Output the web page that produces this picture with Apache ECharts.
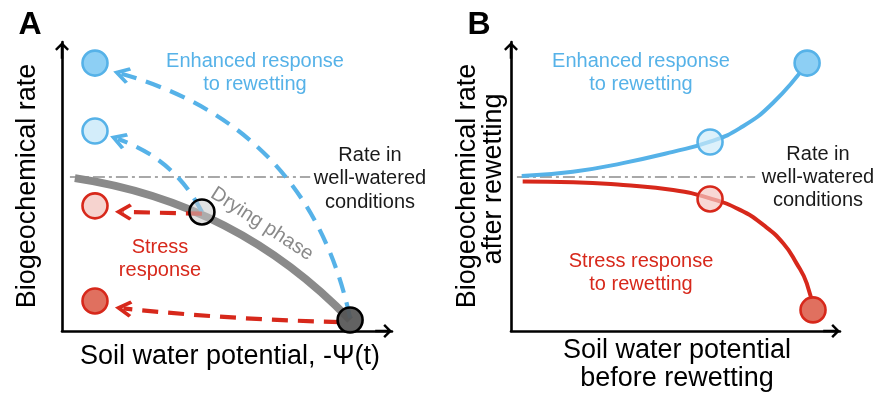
<!DOCTYPE html>
<html><head><meta charset="utf-8">
<script src="https://cdn.jsdelivr.net/npm/echarts@6/dist/echarts.min.js"></script>
<style>html,body{margin:0;padding:0;background:#fff}#c{width:876px;height:398px}</style>
</head><body><div id="c"></div>
<script>
// ---------- Panel A data (conceptual units 0-100) ----------
const dryingCurveA = [[3.9, 52.9], [87.3, 3.8]];
const wellWateredA = [[2.4, 53.3], [75.2, 53.3]];
const enhancedPathsA = [[[87.3, 4.5], [18.0, 89.0]], [[42.4, 41.2], [17.0, 66.4]]];
const stressPathsA = [[[42.4, 40.6], [18.6, 41.2]], [[84.2, 3.1], [18.6, 7.8]]];
const enhancedPointsA = [[10, 92.7], [10, 69.2]];
const stressPointsA = [[10, 43.3], [10, 10.4]];
const dryingPointsA = [[42.4, 41.2], [87.3, 3.8]];
// ---------- Panel B data ----------
const enhancedCurveB = [[3.25, 53.6], [18.8, 55.1], [34.0, 58.1], [49.2, 62.0], [60.5, 65.5], [69.6, 70.2], [79.6, 78.9], [90.0, 92.7]];
const stressCurveB = [[3.55, 51.7], [18.9, 51.5], [34.1, 50.5], [49.3, 48.8], [60.5, 45.9], [69.6, 41.9], [76.7, 36.7], [82.8, 30.3], [86.8, 23.4], [89.9, 16.5], [91.9, 7.3]];
const wellWateredB = [[1.8, 53.3], [74.2, 53.3]];
const enhancedPointsB = [[90.0, 92.7], [60.5, 65.4]];
const stressPointsB = [[60.5, 45.7], [91.8, 7.3]];

const BLUE = '#56B2E8', RED = '#D7281B', GRAY = '#8a8a8a';
const FONT = '"Liberation Sans", Arial, Helvetica, sans-serif';
const axisArrow = 'path://M10,0 L20,10 L17.53,12.47 L11.8,6.75 L11.8,24 L8.2,24 L8.2,6.75 L2.47,12.47 L0,10 Z';
const chevron = 'path://M10,0 L20,15 L16.8,17.5 L10,7.5 L3.2,17.5 L0,15 Z';

function axisPair(idx) {
  const line = {show: true, symbol: ['none', axisArrow], symbolSize: [14, 16.8], symbolOffset: [0, -8.4],
    lineStyle: {color: '#000', width: 2.6}};
  return {
    x: {type: 'value', gridIndex: idx, min: 0, max: 100, axisLine: line, axisTick: {show: false},
        axisLabel: {show: false}, splitLine: {show: false}},
    y: {type: 'value', gridIndex: idx, min: 0, max: 100, axisLine: line, axisTick: {show: false},
        axisLabel: {show: false}, splitLine: {show: false}}
  };
}
const axA = axisPair(0), axB = axisPair(1);

function dashDot(data, idx) {
  return {type: 'lines', coordinateSystem: 'cartesian2d', xAxisIndex: idx, yAxisIndex: idx, z: 1,
    data: [{coords: data}], lineStyle: {color: '#8c8c8c', width: 1.5, type: [12, 4, 3, 4], opacity: 1}};
}
function arrowLines(paths, color, curv, idx) {
  return {type: 'lines', coordinateSystem: 'cartesian2d', xAxisIndex: idx, yAxisIndex: idx, z: 3,
    symbol: ['none', chevron], symbolSize: 17,
    data: paths.map((p, i) => ({coords: p, lineStyle: {curveness: curv[i]}})),
    lineStyle: {color: color, width: 4.2, type: [16, 10], opacity: 1}};
}
function dots(points, fills, borders, idx, z) {
  return {type: 'scatter', xAxisIndex: idx, yAxisIndex: idx, symbolSize: 25, z: z || 5,
    data: points.map((p, i) => ({value: p, itemStyle: {color: fills[i], borderColor: borders[i], borderWidth: 2.6, opacity: 1}}))};
}
function txt(x, y, text, color, size, extra) {
  return Object.assign({type: 'text', x: x, y: y, z: 100,
    style: {text: text, fill: color, font: (extra && extra.bold ? 'bold ' : '') + size + 'px ' + FONT,
      align: 'center', verticalAlign: 'middle', textAlign: 'center', textVerticalAlign: 'middle'}},
    extra && extra.rotation !== undefined ? {rotation: extra.rotation} : {});
}

const option = {
  animation: false,
  backgroundColor: '#fff',
  grid: [
    {left: 62, top: 42, width: 330, height: 289},
    {left: 511, top: 42, width: 329, height: 289}
  ],
  xAxis: [axA.x, axB.x],
  yAxis: [axA.y, axB.y],
  series: [
    // Panel A
    dashDot(wellWateredA, 0),
    {type: 'lines', coordinateSystem: 'cartesian2d', xAxisIndex: 0, yAxisIndex: 0, z: 2,
      data: [{coords: dryingCurveA}], lineStyle: {color: GRAY, width: 8, curveness: 0.17, opacity: 1, cap: 'butt'}},
    arrowLines(enhancedPathsA, BLUE, [-0.3, -0.2], 0),
    arrowLines(stressPathsA, RED, [0, 0.02], 0),
    dots(enhancedPointsA, ['#8DCFF4', '#D3EDFA'], [BLUE, BLUE], 0),
    dots(stressPointsA, ['#F6D3CF', '#E0705F'], [RED, RED], 0),
    dots(dryingPointsA, ['rgba(200,200,200,0.55)', 'rgba(85,85,85,0.92)'], ['#000', '#000'], 0, 6),
    // Panel B
    dashDot(wellWateredB, 1),
    {type: 'line', xAxisIndex: 1, yAxisIndex: 1, data: enhancedCurveB, smooth: 0.5,
      showSymbol: false, symbol: 'none', z: 3, lineStyle: {color: BLUE, width: 4}},
    {type: 'line', xAxisIndex: 1, yAxisIndex: 1, data: stressCurveB, smooth: 0.5,
      showSymbol: false, symbol: 'none', z: 3, lineStyle: {color: RED, width: 4}},
    dots(enhancedPointsB, ['#8DCFF4', 'rgba(205,235,250,0.7)'], [BLUE, BLUE], 1),
    dots(stressPointsB, ['rgba(245,200,195,0.7)', '#E0705F'], [RED, RED], 1)
  ],
  graphic: [
    txt(30, 25, 'A', '#000', 32, {bold: true}),
    txt(479, 25, 'B', '#000', 32, {bold: true}),
    txt(27.5, 186, 'Biogeochemical rate', '#000', 27, {rotation: Math.PI / 2}),
    txt(230, 357, 'Soil water potential, -\u03A8(t)', '#000', 27),
    txt(255, 61, 'Enhanced response', BLUE, 20),
    txt(255, 84, 'to rewetting', BLUE, 20),
    txt(370, 155, 'Rate in', '#1a1a1a', 20),
    txt(370, 178, 'well-watered', '#1a1a1a', 20),
    txt(370, 202, 'conditions', '#1a1a1a', 20),
    txt(160, 247, 'Stress', RED, 20),
    txt(160, 270, 'response', RED, 20),
    txt(262, 224, 'Drying phase', GRAY, 20, {rotation: -33 * Math.PI / 180}),
    txt(467.5, 186, 'Biogeochemical rate', '#000', 27, {rotation: Math.PI / 2}),
    txt(493.5, 179, 'after rewetting', '#000', 27, {rotation: Math.PI / 2}),
    txt(677, 351, 'Soil water potential', '#000', 27),
    txt(677, 379, 'before rewetting', '#000', 27),
    txt(641, 61, 'Enhanced response', BLUE, 20),
    txt(641, 84, 'to rewetting', BLUE, 20),
    txt(641, 261, 'Stress response', RED, 20),
    txt(641, 284, 'to rewetting', RED, 20),
    txt(818, 154, 'Rate in', '#1a1a1a', 20),
    txt(818, 177, 'well-watered', '#1a1a1a', 20),
    txt(818, 200, 'conditions', '#1a1a1a', 20)
  ]
};
const chart = echarts.init(document.getElementById('c'), null, {renderer: 'canvas'});
chart.setOption(option);
</script></body></html>
